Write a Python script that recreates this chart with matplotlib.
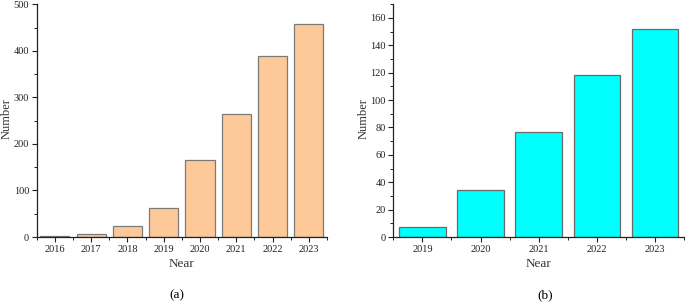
import numpy as np
import matplotlib.pyplot as plt
from matplotlib.ticker import MultipleLocator

plt.rcParams['font.family'] = ['Liberation Serif', 'DejaVu Serif']

years_a = ['2016', '2017', '2018', '2019', '2020', '2021', '2022', '2023']
counts_a = [2, 6, 24, 62, 166, 265, 389, 458]

years_b = ['2019', '2020', '2021', '2022', '2023']
counts_b = [7, 34, 77, 118, 152]

fig = plt.figure(figsize=(6.85, 3.02), dpi=100)
ax1 = fig.add_axes([0.0536, 0.2152, 0.4238, 0.7706])
ax2 = fig.add_axes([0.5742, 0.2152, 0.4243, 0.7706])


def style(ax, n, ymax, major, minor, ylab_x):
    for s in ['top', 'right']:
        ax.spines[s].set_visible(False)
    for s in ['left', 'bottom']:
        ax.spines[s].set_color('#222222')
        ax.spines[s].set_linewidth(0.9)
    ax.set_xlim(-0.5, n - 0.5)
    ax.set_ylim(0, ymax)
    ax.yaxis.set_major_locator(MultipleLocator(major))
    ax.yaxis.set_minor_locator(MultipleLocator(minor))
    ax.xaxis.set_minor_locator(MultipleLocator(0.5))
    ax.tick_params(which='major', direction='out', length=3.5, width=0.8,
                   labelsize=7.5, colors='#222222', pad=2)
    ax.tick_params(which='minor', direction='out', length=2, width=0.7, colors='#222222')
    ax.set_ylabel('Number', fontsize=9, color='#333333', va='center')
    ax.yaxis.set_label_coords(ylab_x, 0.51)
    ax.set_xlabel('Near', fontsize=9.5, color='#333333', labelpad=3)


x = np.arange(len(years_a))
ax1.bar(x, counts_a, width=0.8, color='#FDC999', edgecolor='#7a7a7a', linewidth=0.9)
ax1.set_xticks(x)
ax1.set_xticklabels(years_a)
style(ax1, len(years_a), 500, 100, 50, -0.102)

x = np.arange(len(years_b))
ax2.bar(x, counts_b, width=0.8, color='#00FFFF', edgecolor='#6a6a6a', linewidth=0.9)
ax2.set_xticks(x)
ax2.set_xticklabels(years_b)
style(ax2, len(years_b), 170, 20, 10, -0.103)

fig.text(176.7 / 685, 1 - 295 / 302, '(a)', fontsize=9.5, ha='center', va='center')
fig.text(545 / 685, 1 - 295 / 302, '(b)', fontsize=9.5, ha='center', va='center')

fig.savefig('out.png', dpi=100)
